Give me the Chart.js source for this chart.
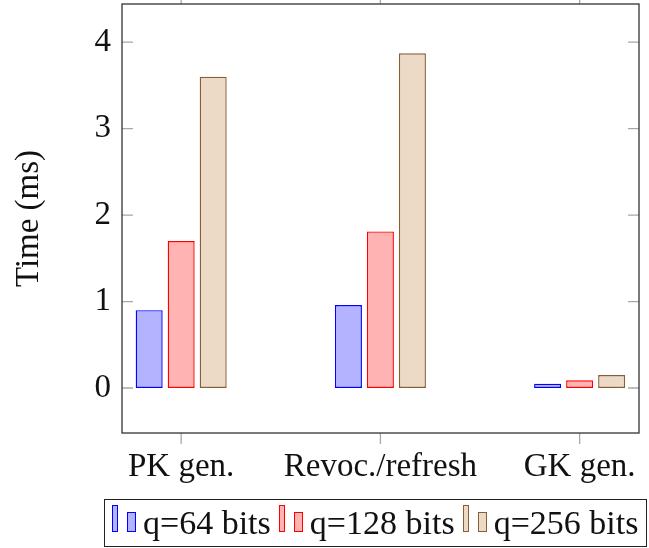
<!DOCTYPE html>
<html>
<head>
<meta charset="utf-8">
<script src="https://cdn.jsdelivr.net/npm/chart.js@4.4.1/dist/chart.umd.min.js"></script>
<style>
  body { margin: 0; background: #fff; }
  #wrap { position: relative; width: 649px; height: 548px; }
  #legend {
    position: absolute; left: 104px; top: 499px; width: 543px; height: 48px;
    box-sizing: border-box; border: 1px solid #222; padding-left: 7px;
    font: 34px "Liberation Serif", serif; line-height: 46px; color: #111;
    white-space: nowrap; overflow: hidden;
  }
  .item { display: inline-block; margin-right: 8px; }
  .icon { display: inline-block; position: relative; width: 31px; height: 27px; margin-bottom: 2px; vertical-align: baseline; }
  .icon div { position: absolute; bottom: 0; box-sizing: border-box; border: 1.3px solid; }
</style>
</head>
<body>
<div id="wrap">
  <canvas id="chart" width="649" height="548"></canvas>
  <div id="legend"></div>
</div>
<script>
var categories = ['PK gen.', 'Revoc./refresh', 'GK gen.'];
var seriesNames = ['q=64 bits', 'q=128 bits', 'q=256 bits'];
var q64 = [0.9, 0.96, 0.05];
var q128 = [1.7, 1.81, 0.09];
var q256 = [3.6, 3.87, 0.15];
var yTicks = [0, 1, 2, 3, 4];

var fills = ['rgb(179,179,255)', 'rgb(255,179,179)', 'rgb(236,217,198)'];
var lines = ['rgb(0,0,255)', 'rgb(255,0,0)', 'rgb(135,95,55)'];
var font = { family: '"Liberation Serif", serif', size: 33 };

function points(vals) {
  return vals.map(function (v, i) { return { x: i, y: v }; });
}

// frame + pgfplots-like tick marks
var framePlugin = {
  id: 'frame',
  beforeDatasetsDraw: function (chart) {
    var ctx = chart.ctx, a = chart.chartArea;
    var xs = chart.scales.x, ys = chart.scales.y;
    ctx.save();
    ctx.strokeStyle = '#a8a8a8';
    ctx.lineWidth = 1.3;
    ctx.beginPath();
    ys.ticks.forEach(function (t) {
      var y = ys.getPixelForValue(t.value);
      ctx.moveTo(a.left, y); ctx.lineTo(a.left + 11, y);
      ctx.moveTo(a.right, y); ctx.lineTo(a.right - 11, y);
    });
    xs.ticks.forEach(function (t) {
      var x = xs.getPixelForValue(t.value);
      ctx.moveTo(x, a.bottom); ctx.lineTo(x, a.bottom + 11);
      ctx.moveTo(x, a.top); ctx.lineTo(x, a.top - 11);
    });
    ctx.stroke();
    ctx.restore();
  },
  afterDraw: function (chart) {
    var ctx = chart.ctx, a = chart.chartArea;
    ctx.save();
    ctx.strokeStyle = '#333';
    ctx.lineWidth = 1.3;
    ctx.strokeRect(a.left, a.top, a.right - a.left, a.bottom - a.top);
    ctx.restore();
  }
};

function noPad(s) {
  s.paddingTop = 0; s.paddingBottom = 0; s.paddingLeft = 0; s.paddingRight = 0;
}

var chart = new Chart(document.getElementById('chart'), {
  type: 'bar',
  data: {
    datasets: [
      { label: seriesNames[0], data: points(q64), backgroundColor: fills[0], borderColor: lines[0] },
      { label: seriesNames[1], data: points(q128), backgroundColor: fills[1], borderColor: lines[1] },
      { label: seriesNames[2], data: points(q256), backgroundColor: fills[2], borderColor: lines[2] }
    ]
  },
  options: {
    responsive: false,
    animation: false,
    devicePixelRatio: 1,
    layout: { padding: { top: 4, right: 10, bottom: 55, left: 0 } },
    datasets: {
      bar: { borderWidth: 1.4, borderSkipped: false, categoryPercentage: 0.482, barPercentage: 0.844 }
    },
    plugins: { legend: { display: false }, tooltip: { enabled: false } },
    scales: {
      x: {
        type: 'linear',
        offset: false,
        min: -0.297,
        max: 2.298,
        grid: { display: false, drawTicks: false, offset: false },
        border: { display: false },
        afterBuildTicks: function (s) { s.ticks = categories.map(function (c, i) { return { value: i }; }); },
        afterFit: function (s) { s.height = 60; noPad(s); },
        ticks: {
          autoSkip: false, maxRotation: 0, padding: 15, color: '#111', font: font,
          callback: function (v) { return categories[v]; }
        }
      },
      y: {
        min: -0.52,
        max: 4.44,
        grid: { display: false, drawTicks: false },
        border: { display: false },
        afterBuildTicks: function (s) { s.ticks = yTicks.map(function (v) { return { value: v }; }); },
        afterFit: function (s) { s.width = 122; noPad(s); },
        ticks: { padding: 11, color: '#111', font: font },
        title: { display: true, text: 'Time (ms)', color: '#111', font: font, padding: { top: 10, bottom: 0 } }
      }
    }
  },
  plugins: [framePlugin]
});

// legend in pgfplots style, built from the datasets
var legend = document.getElementById('legend');
chart.data.datasets.forEach(function (ds) {
  var item = document.createElement('span');
  item.className = 'item';
  var icon = document.createElement('span');
  icon.className = 'icon';
  [[0, 6, 27], [15, 9, 20]].forEach(function (b) {
    var bar = document.createElement('div');
    bar.style.left = b[0] + 'px';
    bar.style.width = b[1] + 'px';
    bar.style.height = b[2] + 'px';
    bar.style.background = ds.backgroundColor;
    bar.style.borderColor = ds.borderColor;
    icon.appendChild(bar);
  });
  item.appendChild(icon);
  item.appendChild(document.createTextNode(ds.label));
  legend.appendChild(item);
});
</script>
</body>
</html>
